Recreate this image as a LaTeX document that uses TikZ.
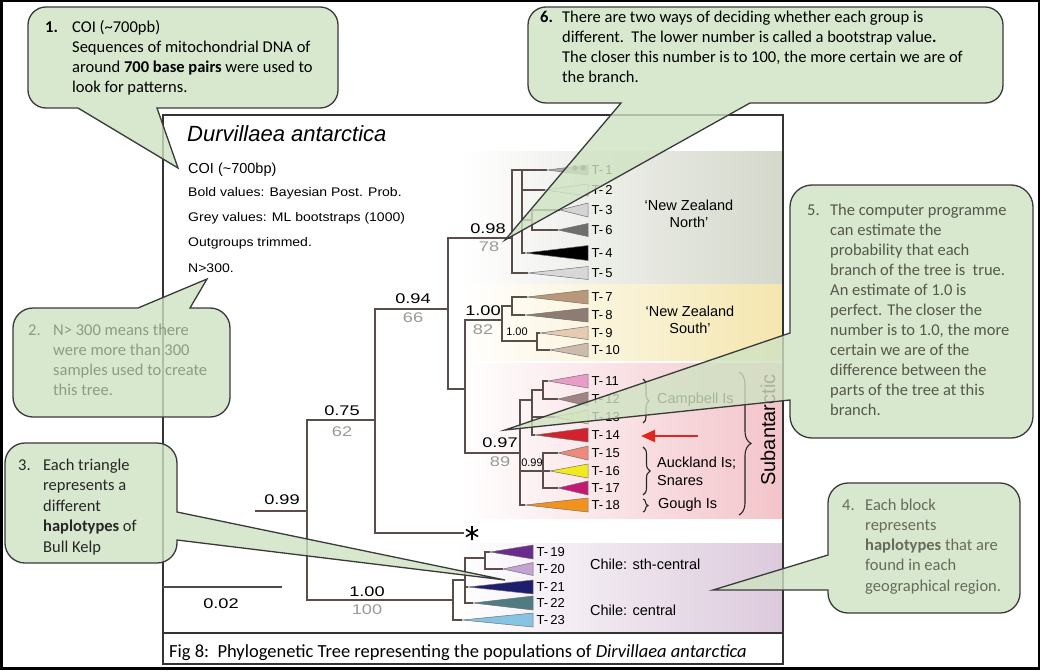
\documentclass[tikz,border=0pt]{standalone}
\usepackage{fontspec}
\usepackage{graphicx}
\setmainfont{Liberation Sans}
\newfontfamily\carl{Carlito}
\usetikzlibrary{decorations.pathreplacing,arrows.meta}
\definecolor{branch}{HTML}{5B4E4A}
\definecolor{callfill}{HTML}{CFE3C2}
\definecolor{callline}{HTML}{3A3A3A}
\definecolor{bandN}{HTML}{D4D8CB}
\definecolor{bandS}{HTML}{F4E6AE}
\definecolor{bandA}{HTML}{F3C4CA}
\definecolor{bandC}{HTML}{DCCADC}
\definecolor{greyval}{HTML}{9A9A9A}
\definecolor{txt5}{HTML}{55574A}
\definecolor{txt4}{HTML}{686A5C}
\definecolor{txt2}{HTML}{8C9C84}
\definecolor{arrred}{HTML}{E0261E}
\definecolor{tA}{HTML}{A9A9A9}
\definecolor{tB}{HTML}{EEEEEE}
\definecolor{tC}{HTML}{D4D4D4}
\definecolor{tF}{HTML}{6E6E6E}
\definecolor{tD}{HTML}{000000}
\definecolor{tE}{HTML}{D8D8DA}
\definecolor{tG}{HTML}{B8977A}
\definecolor{tH}{HTML}{8E7C72}
\definecolor{tI}{HTML}{E6CBB2}
\definecolor{tJ}{HTML}{CDBCAE}
\definecolor{tK}{HTML}{E89CC8}
\definecolor{tL}{HTML}{9E8482}
\definecolor{tM}{HTML}{E6EAB0}
\definecolor{tN}{HTML}{D0232B}
\definecolor{tO}{HTML}{EC8A7C}
\definecolor{tP}{HTML}{F2EA1E}
\definecolor{tQ}{HTML}{C21A72}
\definecolor{tR}{HTML}{F0921C}
\definecolor{tS}{HTML}{6A2C8A}
\definecolor{tT}{HTML}{C4A2D2}
\definecolor{tU}{HTML}{1E1E6E}
\definecolor{tV}{HTML}{4E7C82}
\definecolor{tW}{HTML}{86C4E4}
\newcommand\wx[2]{\scalebox{#1}[1]{#2}}
\begin{document}
\begin{tikzpicture}[x=1pt,y=-1pt,
  br/.style={draw=branch, line width=1.3pt},
  sup/.style={inner sep=0, font=\fontsize{14}{16}\selectfont},
  supg/.style={sup, text=greyval},
  sml/.style={inner sep=0, font=\fontsize{11}{13}\selectfont},
  tl/.style={anchor=west, inner sep=0, font=\fontsize{13}{15}\selectfont},
  reg/.style={inner sep=0, font=\fontsize{14.5}{17}\selectfont},
  info/.style={anchor=west, inner sep=0, font=\fontsize{12.5}{15}\selectfont},
  callout/.style={fill=callfill, fill opacity=0.8, draw=callline, line width=1.3pt},
  ct/.style={anchor=base west, inner sep=0, font=\carl\fontsize{16.5}{20}\selectfont},
  brc/.style={decorate, decoration={brace, amplitude=#1}, line width=1.1pt, draw=black!85}
]
\useasboundingbox (0,0) rectangle (1040,671);
\fill[white] (0,0) rectangle (1040,671);

% background bands
\shade[left color=white, middle color=bandN!80, right color=bandN] (460,152) rectangle (783,283);
\shade[left color=white, middle color=bandS!80, right color=bandS] (460,284) rectangle (783,360);
\shade[left color=white, middle color=bandA!80, right color=bandA] (460,363) rectangle (783,518);
\shade[left color=white, middle color=bandC!80, right color=bandC] (455,543) rectangle (783,632);

% figure and caption boxes
\draw[line width=1.3pt, draw=black!80] (163,115) rectangle (783,633);
\draw[line width=1.3pt, draw=black!80] (163,633) rectangle (783,664);
\draw[line width=2.5pt] (1.25,1.25) rectangle (1038.75,668.5);

% header text
\node[anchor=west, inner sep=0, font=\itshape\fontsize{22}{26}\selectfont] (title) at (187,134) {Durvillaea antarctica};
\node[anchor=west, inner sep=0, font=\fontsize{14.5}{17}\selectfont] (coi) at (188,170) {COI (\textasciitilde700bp)};
\node[info] (boldv) at (188,193) {\wx{1.12}{Bold values: Bayesian Post. Prob.}};
\node[info] (greyv) at (188,218) {\wx{1.12}{Grey values: ML bootstraps (1000)}};
\node[info] (outg) at (188,243) {\wx{1.12}{Outgroups trimmed.}};
\node[info] (nval) at (188,268) {\wx{1.12}{N>300.}};

% tree coordinates
\coordinate (root) at (255,511);
\coordinate (nA) at (307,511);
\coordinate (n75) at (375,420);
\coordinate (nCh) at (453,600);
\coordinate (n94) at (448,309);
\coordinate (ast) at (464,533);
\coordinate (astc) at (472,533);
\coordinate (nN) at (512,238);
\coordinate (nX) at (465,389);
\coordinate (nS) at (502,320);
\coordinate (nSb) at (520,453);
\coordinate (nN1) at (522,170);
\coordinate (nN36) at (532,220);
\coordinate (nS78) at (512,306);
\coordinate (nS910) at (537,341);
\coordinate (nSb1) at (532,400);
\coordinate (nS1112) at (543,390);
\coordinate (nAk) at (543,471);
\coordinate (nC1) at (465,580);
\coordinate (nC19) at (485,558);

\draw[br] (root) -- (nA);
\draw[br] (nA) |- (n75);
\draw[br] (nA) |- (nCh);
\draw[br] (n75) |- (n94);
\draw[br] (n75) |- (ast);
\draw[br] (n94) |- (nN);
\draw[br] (n94) |- (nX);
\draw[br] (nX) |- (nS);
\draw[br] (nX) |- (nSb);
\draw[br] (nN) |- (nN1);
\draw[br] (nN1) |- (nN36);
\draw[br] (nS) |- (nS78);
\draw[br] (nS) |- (nS910);
\draw[br] (nSb) |- (nSb1);
\draw[br] (nSb1) |- (nS1112);
\draw[br] (nSb) |- (nAk);
\draw[br] (nCh) |- (nC1);
\draw[br] (nC1) |- (nC19);

% asterisk
\draw[line width=1.6pt, shift={(astc)}] (0,-7) -- (0,7) (-6.06,-3.5) -- (6.06,3.5) (-6.06,3.5) -- (6.06,-3.5);

% tips
\foreach \pp/\tx/\ty/\h/\col/\lab/\rx in {
  nN1/547/170/5/tA/1/588, nN1/545/190/6/tB/2/588, nN36/560/210/7/tC/3/588,
  nN36/558/230/6.5/tF/6/588, nN1/525/253/7.5/tD/4/588, nN/528/273/6.5/tE/5/588,
  nS78/527/297/7/tG/7/588, nS78/525/315/7/tH/8/588, nS910/540/333/6.5/tI/9/588,
  nS910/550/350/7/tJ/10/588,
  nS1112/548/381/7/tK/11/588, nS1112/558/399/7/tL/12/588, nSb1/555/417/7/tM/13/588,
  nSb1/535/435/7/tN/14/588, nAk/558/453/7/tO/15/588, nAk/550/471/7/tP/16/588,
  nAk/558/488/7/tQ/17/588, nSb/525/505/7/tR/18/588,
  nC19/490/552/7/tS/19/533, nC19/503/569/6.5/tT/20/533, nC1/468/587/7/tU/21/533,
  nC1/473/603/7/tV/22/533, nCh/462/620/7/tW/23/533} {
  \draw[br] (\pp) |- (\tx,\ty);
  \filldraw[fill=\col, draw=black!55, line width=0.5pt] (\tx,\ty) -- (\rx,\ty-\h) -- (\rx,\ty+\h) -- cycle;
  \node[tl] (T\lab) at (\rx+3.5,\ty) {T-\,\lab};
}
\fill[black!70] (575,168) circle[radius=2.8];
\fill[black!70] (583,168) circle[radius=2.8];

% support values
\node[sup] (s099) at (282,500) {\wx{1.3}{0.99}};
\node[sup] (s075) at (342,411) {\wx{1.3}{0.75}};
\node[supg] (b62) at (342,432) {\wx{1.3}{62}};
\node[sup] (s094) at (413,299) {\wx{1.3}{0.94}};
\node[supg] (b66) at (413,318) {\wx{1.3}{66}};
\node[sup] (s098) at (488,229) {\wx{1.3}{0.98}};
\node[supg] (b78) at (489,247) {\wx{1.3}{78}};
\node[sup] (s100a) at (483,311) {\wx{1.3}{1.00}};
\node[supg] (b82) at (483,330) {\wx{1.3}{82}};
\node[sml] (s100b) at (517,332) {1.00};
\node[sup] (s097) at (500,443) {\wx{1.3}{0.97}};
\node[supg] (b89) at (500,462) {\wx{1.3}{89}};
\node[sml] (s099b) at (532,463) {0.99};
\node[sup] (s100c) at (367,592) {\wx{1.3}{1.00}};
\node[supg] (b100) at (367,610) {\wx{1.3}{100}};

% scale bar
\coordinate (sb1) at (163,587);
\coordinate (sb2) at (282,587);
\draw[br, draw=black!70] (sb1) -- (sb2);
\node[sup] (sbl) at (221,604) {\wx{1.3}{0.02}};

% region labels
\node[reg, align=center] (nzn) at (689,214) {‘New Zealand\\North’};
\node[reg, align=center] (nzs) at (690,320) {‘New Zealand\\South’};
\node[reg, anchor=west] (camp) at (657,400) {Campbell Is};
\node[reg, anchor=west] (auck1) at (657,463) {Auckland Is;};
\node[reg, anchor=west] (auck2) at (657,481) {Snares};
\node[reg, anchor=west] (gough) at (658,505) {Gough Is};
\node[reg, anchor=west] (ch1) at (590,564) {Chile: sth-central};
\node[reg, anchor=west] (ch2) at (590,610) {Chile: central};
\node[rotate=90, inner sep=0, font=\fontsize{20}{24}\selectfont] (subant) at (768,430) {Subantarctic};

\coordinate (bc1) at (643,379); \coordinate (bc2) at (643,423);
\coordinate (ba1) at (643,447); \coordinate (ba2) at (643,495);
\coordinate (bg1) at (643,499); \coordinate (bg2) at (643,512);
\coordinate (bs1) at (739,372); \coordinate (bs2) at (739,515);
\draw[brc=6pt] (bc1) -- (bc2);
\draw[brc=7pt] (ba1) -- (ba2);
\draw[brc=5pt] (bg1) -- (bg2);
\draw[brc=12pt] (bs1) -- (bs2);

% red arrow
\coordinate (ar1) at (698,436);
\coordinate (ar2) at (641,436);
\draw[arrred, line width=2pt, -{Triangle[length=14pt,width=12pt]}] (ar1) -- (ar2);

% caption
\node[anchor=base west, inner sep=0, font=\carl\fontsize{18.5}{22}\selectfont] (cap) at (169,657) {Fig 8:\ \ Phylogenetic Tree representing the populations of \textit{Dirvillaea antarctica}};

% callouts
\path[callout] (46,7) -- (320,7) arc[start angle=270,end angle=360,radius=18] -- (338,90) arc[start angle=0,end angle=90,radius=18] -- (157,108) -- (178,168) -- (78,108) -- (46,108) arc[start angle=90,end angle=180,radius=18] -- (28,25) arc[start angle=180,end angle=270,radius=18] -- cycle;
\path[callout] (546,7) -- (985,7) arc[start angle=270,end angle=360,radius=18] -- (1003,85) arc[start angle=0,end angle=90,radius=18] -- (750,103) -- (505,240) -- (621,103) -- (546,103) arc[start angle=90,end angle=180,radius=18] -- (528,25) arc[start angle=180,end angle=270,radius=18] -- cycle;
\path[callout] (812,185) -- (1011,185) arc[start angle=270,end angle=360,radius=22] -- (1033,416) arc[start angle=0,end angle=90,radius=22] -- (812,438) arc[start angle=90,end angle=180,radius=22] -- (790,400) -- (505,430) -- (790,333) -- (790,207) arc[start angle=180,end angle=270,radius=22] -- cycle;
\path[callout] (33,308) -- (138,308) -- (207,279) -- (190,308) -- (210,308) arc[start angle=270,end angle=360,radius=20] -- (230,397) arc[start angle=0,end angle=90,radius=20] -- (33,417) arc[start angle=90,end angle=180,radius=20] -- (13,328) arc[start angle=180,end angle=270,radius=20] -- cycle;
\path[callout] (25,443) -- (157,443) arc[start angle=270,end angle=360,radius=20] -- (177,512) -- (505,580) -- (177,540) -- (177,543) arc[start angle=0,end angle=90,radius=20] -- (25,563) arc[start angle=90,end angle=180,radius=20] -- (5,463) arc[start angle=180,end angle=270,radius=20] -- cycle;
\path[callout] (848,483) -- (1000,483) arc[start angle=270,end angle=360,radius=20] -- (1020,593) arc[start angle=0,end angle=90,radius=20] -- (848,613) arc[start angle=90,end angle=180,radius=20] -- (828,590) -- (713,590) -- (828,555) -- (828,503) arc[start angle=180,end angle=270,radius=20] -- cycle;

% callout texts
\node[ct, font=\carl\bfseries\fontsize{16.5}{20}\selectfont] (c1n) at (45,33) {1.};
\foreach \t [count=\i] in {{COI (\textasciitilde700pb)},{Sequences of mitochondrial DNA of},{around \textbf{700 base pairs} were used to},{look for patterns.}}
  \node[ct] (c1l\i) at (72,{13+20*\i}) {\t};
\node[ct, font=\carl\bfseries\fontsize{16.5}{20}\selectfont] (c6n) at (540,23) {6.};
\foreach \t [count=\i] in {{There are two ways of deciding whether each group is},{different.\ \ The lower number is called a bootstrap value\textbf{.}},{The closer this number is to 100, the more certain we are of},{the branch.}}
  \node[ct] (c6l\i) at (562,{3+20*\i}) {\t};
\node[ct, text=txt5] (c5n) at (807,215) {5.};
\foreach \t [count=\i] in {{The computer programme},{can estimate the},{probability that each},{branch of the tree is\ \ true.},{An estimate of 1.0 is},{perfect. The closer the},{number is to 1.0, the more},{certain we are of the},{difference between the},{parts of the tree at this},{branch.}}
  \node[ct, text=txt5] (c5l\i) at (830,{195+20*\i}) {\t};
\node[ct, text=txt4] (c4n) at (842,510) {4.};
\foreach \t [count=\i] in {{Each block},{represents},{\textbf{haplotypes} that are},{found in each},{geographical region.}}
  \node[ct, text=txt4] (c4l\i) at (865,{489.7+20.3*\i}) {\t};
\node[ct, text=black!85] (c3n) at (18,470) {3.};
\foreach \t [count=\i] in {{Each triangle},{represents a},{different},{\textbf{haplotypes} of},{Bull Kelp}}
  \node[ct, text=black!85] (c3l\i) at (43,{449.5+20.5*\i}) {\t};
\node[ct, text=txt2] (c2n) at (28,335) {2.};
\foreach \t [count=\i] in {{N> 300 means there},{were more than 300},{samples used to create},{this tree.}}
  \node[ct, text=txt2] (c2l\i) at (53,{315+20*\i}) {\t};
\end{tikzpicture}
\end{document}
